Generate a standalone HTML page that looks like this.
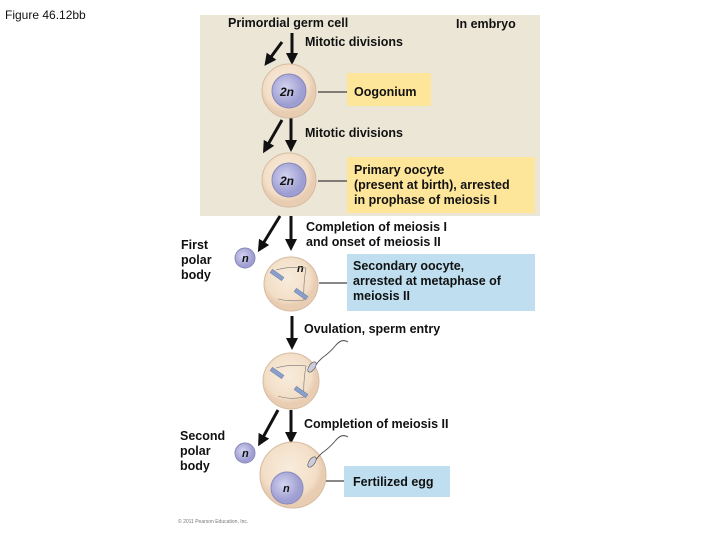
<!DOCTYPE html><html><head><style>body{margin:0;background:#fff}svg{display:block}text{font-family:"Liberation Sans",sans-serif;font-size:12.5px;font-weight:bold;fill:#111}</style></head><body>
<svg width="720" height="540" viewBox="0 0 720 540" xmlns="http://www.w3.org/2000/svg">
<defs><marker id="a" markerWidth="4" markerHeight="4" refX="2" refY="2" orient="auto" markerUnits="strokeWidth"><path d="M0,0 L4,2 L0,4 z" fill="#111"/></marker>
<radialGradient id="c" cx="45%" cy="40%"><stop offset="0" stop-color="#f8ecdc"/><stop offset="0.8" stop-color="#f3dfc8"/><stop offset="1" stop-color="#e8cdb2"/></radialGradient>
<radialGradient id="n" cx="40%" cy="40%"><stop offset="0" stop-color="#d4d4f0"/><stop offset="1" stop-color="#9e9ed2"/></radialGradient></defs>
<text x="5" y="19" style="font-size:12px;font-weight:normal">Figure 46.12bb</text>
<rect x="200" y="15" width="340" height="201" fill="#ebe6d6"/>
<rect x="347" y="73" width="84" height="33" fill="#fde59a"/>
<rect x="347" y="157" width="188" height="56" fill="#fde59a"/>
<rect x="347" y="254" width="188" height="57" fill="#bfdff0"/>
<rect x="344" y="466" width="106" height="31" fill="#bfdff0"/>
<text x="228" y="27">Primordial germ cell</text><text x="456" y="28">In embryo</text>
<text x="305" y="46">Mitotic divisions</text>
<text x="354" y="96">Oogonium</text>
<text x="305" y="137">Mitotic divisions</text>
<text x="354" y="174">Primary oocyte</text><text x="354" y="189">(present at birth), arrested</text><text x="354" y="204">in prophase of meiosis I</text>
<text x="306" y="231">Completion of meiosis I</text><text x="306" y="246">and onset of meiosis II</text>
<text x="181" y="249">First</text><text x="181" y="264">polar</text><text x="181" y="279">body</text>
<text x="353" y="270">Secondary oocyte,</text><text x="353" y="285">arrested at metaphase of</text><text x="353" y="300">meiosis II</text>
<text x="304" y="333">Ovulation, sperm entry</text>
<text x="304" y="428">Completion of meiosis II</text>
<text x="180" y="440">Second</text><text x="180" y="455">polar</text><text x="180" y="470">body</text>
<text x="353" y="486">Fertilized egg</text>
<text x="178" y="523" style="font-size:5px;font-weight:normal;fill:#777">© 2011 Pearson Education, Inc.</text>
<g stroke="#111" stroke-width="3" marker-end="url(#a)">
<line x1="292" y1="33" x2="292" y2="59"/><line x1="282" y1="42" x2="268" y2="61"/>
<line x1="291" y1="118" x2="291" y2="146"/><line x1="282" y1="120" x2="266" y2="148"/>
<line x1="291" y1="216" x2="291" y2="245"/><line x1="280" y1="216" x2="261" y2="247"/>
<line x1="292" y1="316" x2="292" y2="344"/>
<line x1="291" y1="410" x2="291" y2="438"/><line x1="278" y1="410" x2="261" y2="441"/>
</g>
<g stroke="#111" stroke-width="1"><line x1="318" y1="92" x2="347" y2="92"/><line x1="318" y1="181" x2="347" y2="181"/><line x1="319" y1="283" x2="347" y2="283"/><line x1="326" y1="481" x2="344" y2="481"/></g>
<g stroke="#d6bca0" stroke-width="1">
<circle cx="289" cy="91" r="27" fill="url(#c)"/><circle cx="289" cy="180" r="27" fill="url(#c)"/>
<circle cx="291" cy="284" r="27" fill="url(#c)"/><circle cx="291" cy="381" r="28" fill="url(#c)"/>
<circle cx="293" cy="475" r="33" fill="url(#c)"/>
</g>
<g stroke="#8888bb" stroke-width="1"><circle cx="289" cy="91" r="17" fill="url(#n)"/><circle cx="289" cy="180" r="17" fill="url(#n)"/>
<circle cx="245" cy="258" r="10" fill="url(#n)"/><circle cx="245" cy="453" r="10" fill="url(#n)"/><circle cx="287" cy="488" r="16" fill="url(#n)"/></g>
<g><text x="280" y="96" style="font-size:12px;font-style:italic">2n</text><text x="280" y="185" style="font-size:12px;font-style:italic">2n</text>
<text x="242" y="262" style="font-size:11px;font-style:italic">n</text><text x="242" y="457" style="font-size:11px;font-style:italic">n</text><text x="297" y="272" style="font-size:11px;font-style:italic">n</text><text x="283" y="492" style="font-size:11px;font-style:italic">n</text></g>
<g fill="none" stroke="#777" stroke-width="0.6"><path d="M276,270 Q290,266 306,268 Q303,285 304,300 Q290,302 278,299"/><path d="M276,368 Q290,364 306,366 Q303,382 304,397 Q290,400 278,396"/></g>
<g fill="#8aa0cc" stroke="#6678aa" stroke-width="0.5"><rect x="270" y="273" width="14" height="4" transform="rotate(35 277 275)"/><rect x="294" y="292" width="14" height="4" transform="rotate(35 301 294)"/>
<rect x="270" y="371" width="14" height="4" transform="rotate(35 277 373)"/><rect x="294" y="390" width="14" height="4" transform="rotate(35 301 392)"/></g>
<g><path d="M312,371 Q318,360 326,355 Q332,350 336,345 Q342,338 348,342" fill="none" stroke="#555" stroke-width="1"/><ellipse cx="312" cy="367" rx="3" ry="6" transform="rotate(35 312 367)" fill="#ccd" stroke="#555" stroke-width="0.6"/>
<path d="M312,466 Q318,455 326,450 Q332,445 336,440 Q342,433 348,437" fill="none" stroke="#555" stroke-width="1"/><ellipse cx="312" cy="462" rx="3" ry="6" transform="rotate(35 312 462)" fill="#ccd" stroke="#555" stroke-width="0.6"/></g>
</svg></body></html>
